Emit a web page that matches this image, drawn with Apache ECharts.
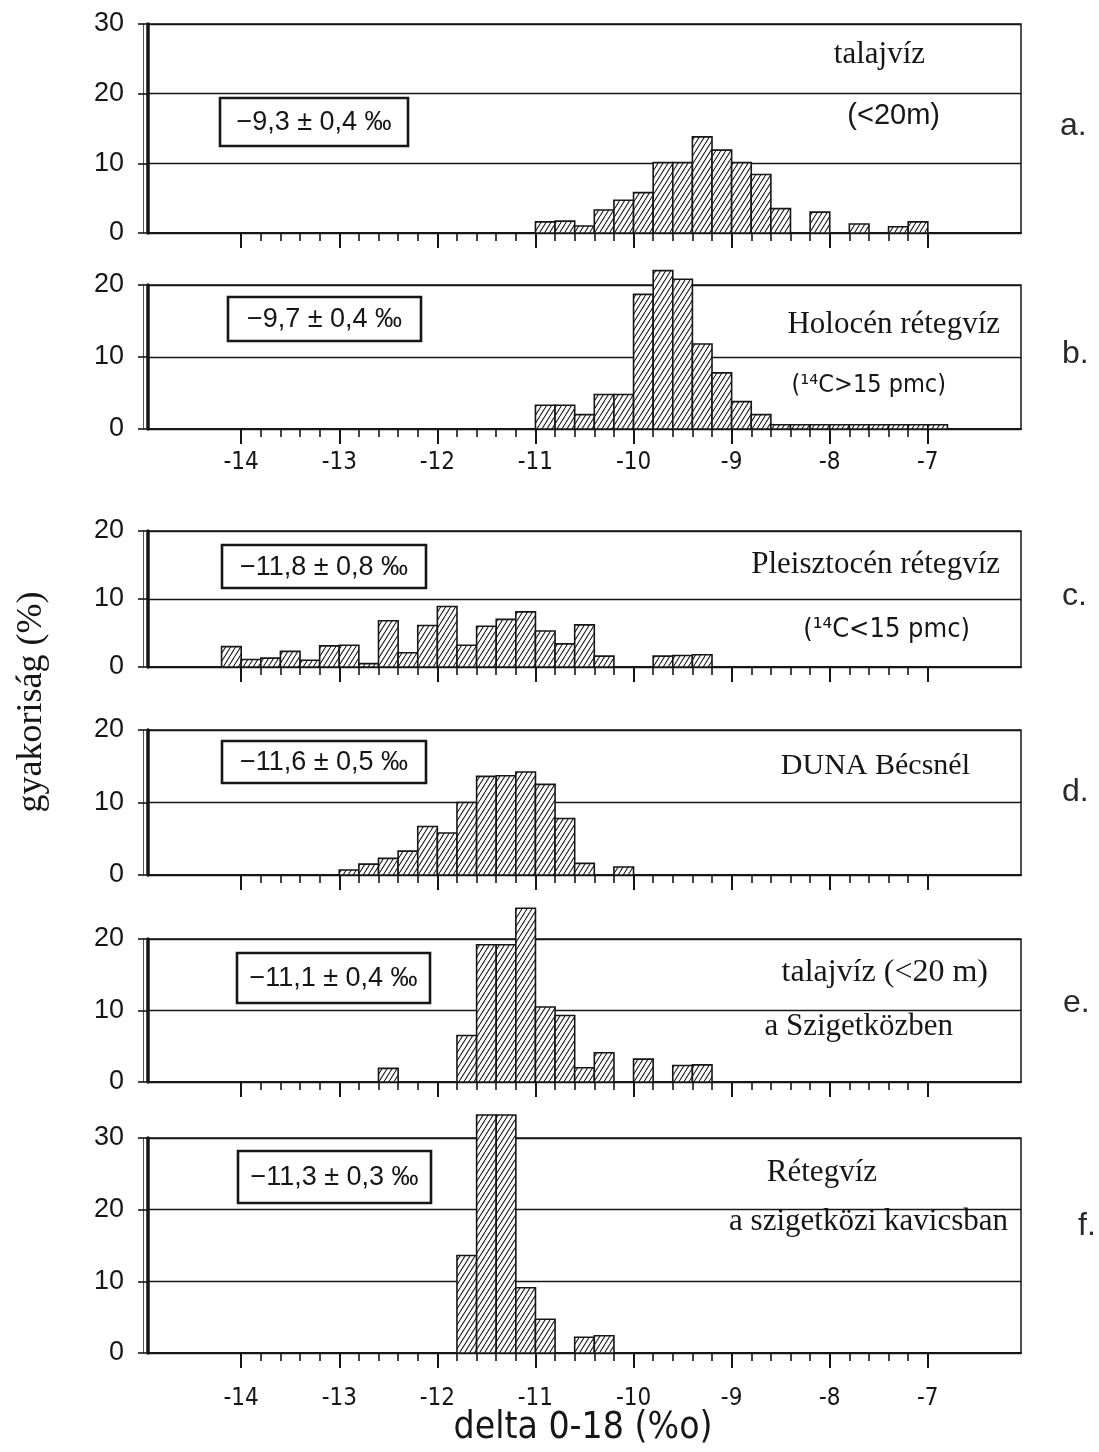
<!DOCTYPE html>
<html>
<head>
<meta charset="utf-8">
<script src="https://cdn.jsdelivr.net/npm/echarts@6/dist/echarts.min.js"></script>
<style>
html,body{margin:0;padding:0;background:#fff;}
#chart{width:1099px;height:1452px;}
</style>
</head>
<body>
<div id="chart"></div>
<script>
// ---------- data (bin width 0.2 ‰, values in %) ----------
const BIN = 0.2;
const majorTickValues = [-14, -13, -12, -11, -10, -9, -8, -7];
const startA = -11.0;
const valuesA = [1.6, 1.7, 1.0, 3.3, 4.7, 5.8, 10.1, 10.1, 13.8, 11.9, 10.1, 8.4, 3.5, 0, 3.0, 0, 1.3, 0, 0.9, 1.6];
const startB = -11.0;
const valuesB = [3.3, 3.3, 2.0, 4.8, 4.8, 18.7, 22.0, 20.8, 11.8, 7.8, 3.8, 2.0, 0.6, 0.6, 0.6, 0.6, 0.6, 0.6, 0.6, 0.6, 0.6];
const startC = -14.2;
const valuesC = [3.0, 1.1, 1.3, 2.3, 1.0, 3.1, 3.2, 0.5, 6.8, 2.1, 6.1, 8.9, 3.2, 6.0, 7.0, 8.1, 5.3, 3.4, 6.2, 1.6, 0, 0, 1.6, 1.7, 1.8];
const startD = -13.0;
const valuesD = [0.7, 1.5, 2.3, 3.3, 6.7, 5.8, 10.0, 13.6, 13.7, 14.2, 12.5, 7.8, 1.6, 0, 1.1];
const startE = -12.6;
const valuesE = [1.9, 0, 0, 0, 6.5, 19.2, 19.2, 24.3, 10.5, 9.3, 2.0, 4.1, 0, 3.2, 0, 2.3, 2.4];
const startF = -11.8;
const valuesF = [13.6, 33.2, 33.2, 9.1, 4.7, 0, 2.2, 2.4];
const yMaxes = [30, 20, 20, 20, 20, 30];
const meanLabels = ['−9,3 ± 0,4 ‰', '−9,7 ± 0,4 ‰', '−11,8 ± 0,8 ‰', '−11,6 ± 0,5 ‰', '−11,1 ± 0,4 ‰', '−11,3 ± 0,3 ‰'];
const panelLetters = ['a.', 'b.', 'c.', 'd.', 'e.', 'f.'];

// ---------- layout ----------
const X_MIN = -14.95, X_MAX = -6.05;
const GRID_LEFT = 148, GRID_WIDTH = 873;
const layout = [
  {top: 24, height: 209},
  {top: 285, height: 144},
  {top: 531, height: 136},
  {top: 730, height: 145},
  {top: 939, height: 143},
  {top: 1138, height: 215}
];
const showXLabels = [false, true, false, false, false, true];
const xLabelMargin = [0, 22, 0, 0, 0, 34];

const minorTickValues = [];
for (let i = 0; i <= 35; i++) minorTickValues.push(Math.round((-14 + BIN * i) * 10) / 10);

function toData(start, vals) {
  return vals.map((v, i) => [Math.round((start + BIN * i) * 10) / 10, v]);
}
const panelData = [
  toData(startA, valuesA), toData(startB, valuesB), toData(startC, valuesC),
  toData(startD, valuesD), toData(startE, valuesE), toData(startF, valuesF)
];

// hatch pattern
function makeHatch() {
  const w = 5, h = 8;
  const c = document.createElement('canvas');
  c.width = w; c.height = h;
  const g = c.getContext('2d');
  g.fillStyle = '#fff'; g.fillRect(0, 0, w, h);
  g.strokeStyle = '#1a1a1a'; g.lineWidth = 1.1;
  g.beginPath();
  for (let k = -1; k <= 1; k++) {
    g.moveTo(k * w, h); g.lineTo(k * w + w, 0);
  }
  g.stroke();
  return c;
}
const hatch = {image: makeHatch(), repeat: 'repeat'};

const SANS = "'Liberation Sans', Arial, sans-serif";
const COND = "'DejaVu Sans Condensed', 'Liberation Sans Narrow', 'Liberation Sans', sans-serif";
const SERIF = "'Liberation Serif', 'Times New Roman', serif";
const INK = '#161616';

const grids = [], xAxes = [], yAxes = [], series = [];
layout.forEach((L, p) => {
  grids.push({left: GRID_LEFT, top: L.top, width: GRID_WIDTH, height: L.height,
    show: true, borderColor: INK, borderWidth: 1.5, backgroundColor: 'transparent'});
  xAxes.push({
    type: 'value', gridIndex: p, min: X_MIN, max: X_MAX, position: 'bottom',
    axisLine: {show: true, onZero: false, lineStyle: {color: INK, width: 2}},
    axisTick: {show: true, inside: false, length: 8, customValues: minorTickValues, lineStyle: {color: INK, width: 1.6}},
    axisLabel: {show: showXLabels[p], customValues: majorTickValues, margin: xLabelMargin[p],
      color: INK, fontSize: 24, fontFamily: COND, formatter: v => String(v)},
    splitLine: {show: false}
  });
  xAxes.push({
    type: 'value', gridIndex: p, min: X_MIN, max: X_MAX, position: 'bottom', offset: 0,
    axisLine: {show: false},
    axisTick: {show: true, inside: false, length: 15, customValues: majorTickValues, lineStyle: {color: INK, width: 2}},
    axisLabel: {show: false},
    splitLine: {show: false}
  });
  yAxes.push({
    type: 'value', gridIndex: p, min: 0, max: yMaxes[p], interval: 10, position: 'left',
    axisLine: {show: true, lineStyle: {color: INK, width: 3.5}},
    axisTick: {show: true, inside: false, length: 10, lineStyle: {color: INK, width: 1.6}},
    axisLabel: {show: true, margin: 24, color: INK, fontSize: 27, fontFamily: SANS},
    splitLine: {show: true, lineStyle: {color: INK, width: 1.4}}
  });
  yAxes.push({
    type: 'value', gridIndex: p, min: 0, max: yMaxes[p], interval: 10, position: 'left', offset: 5,
    axisLine: {show: true, lineStyle: {color: '#555', width: 1}},
    axisTick: {show: false}, axisLabel: {show: false}, splitLine: {show: false}
  });
  series.push({
    type: 'custom', xAxisIndex: p * 2, yAxisIndex: p * 2, clip: false,
    data: panelData[p],
    renderItem: function (params, api) {
      const x0 = api.value(0), v = api.value(1);
      if (!v) return null;
      const a = api.coord([x0, v]);
      const b = api.coord([x0 + BIN, 0]);
      return {type: 'rect',
        shape: {x: a[0], y: a[1], width: b[0] - a[0], height: b[1] - a[1]},
        style: {fill: hatch, stroke: INK, lineWidth: 1.6}};
    }
  });
});

// ---------- annotations ----------
const boxes = [
  {x: 220, y: 98, w: 188, h: 48},
  {x: 228, y: 297, w: 193, h: 44},
  {x: 222, y: 545, w: 204, h: 43},
  {x: 222, y: 741, w: 204, h: 42},
  {x: 237, y: 953, w: 193, h: 50},
  {x: 238, y: 1151, w: 193, h: 52}
];
const graphics = [];
boxes.forEach((B, i) => {
  graphics.push({type: 'rect', shape: {x: B.x, y: B.y, width: B.w, height: B.h},
    style: {fill: '#fff', stroke: INK, lineWidth: 2.6}, z: 100});
  graphics.push({type: 'text', x: B.x + B.w / 2, y: B.y + B.h / 2 + 1, z: 101,
    style: {text: meanLabels[i], font: "27px " + SANS, fill: INK, align: 'center', verticalAlign: 'middle'}});
});
const notes = [
  {t: 'talajvíz', x: 925, y: 55, f: "31px " + SERIF},
  {t: '(<20m)', x: 940, y: 116, f: "29px " + SANS},
  {t: 'Holocén rétegvíz', x: 1000, y: 325, f: "31px " + SERIF},
  {t: '(¹⁴C>15 pmc)', x: 946, y: 385, f: "25px " + COND},
  {t: 'Pleisztocén rétegvíz', x: 1000, y: 565, f: "31px " + SERIF},
  {t: '(¹⁴C<15 pmc)', x: 970, y: 630, f: "27px " + COND},
  {t: 'DUNA Bécsnél', x: 970, y: 766, f: "30px " + SERIF},
  {t: 'talajvíz (<20 m)', x: 988, y: 973, f: "32px " + SERIF},
  {t: 'a Szigetközben', x: 953, y: 1027, f: "31px " + SERIF},
  {t: 'Rétegvíz', x: 877, y: 1173, f: "31px " + SERIF},
  {t: 'a szigetközi kavicsban', x: 1008, y: 1222, f: "31px " + SERIF}
];
notes.forEach(n => graphics.push({type: 'text', x: n.x, y: n.y, z: 101,
  style: {text: n.t, font: n.f, fill: INK, align: 'right', verticalAlign: 'middle'}}));
const letterPos = [[1060, 126], [1062, 354], [1062, 596], [1062, 792], [1063, 1003], [1078, 1226]];
panelLetters.forEach((l, i) => graphics.push({type: 'text', x: letterPos[i][0], y: letterPos[i][1], z: 101,
  style: {text: l, font: "32px " + SANS, fill: '#2a2a2a', align: 'left', verticalAlign: 'middle'}}));
graphics.push({type: 'text', x: 32, y: 702, rotation: Math.PI / 2, z: 101,
  style: {text: 'gyakoriság (%)', font: "36px " + SERIF, fill: INK, align: 'center', verticalAlign: 'middle'}});
graphics.push({type: 'text', x: 583, y: 1428, z: 101,
  style: {text: 'delta 0-18 (%o)', font: "37px " + COND, fill: INK, align: 'center', verticalAlign: 'middle'}});

const chart = echarts.init(document.getElementById('chart'), null, {renderer: 'canvas'});
chart.setOption({
  backgroundColor: '#fff',
  animation: false,
  grid: grids,
  xAxis: xAxes,
  yAxis: yAxes,
  series: series,
  graphic: graphics
});
</script>
</body>
</html>
